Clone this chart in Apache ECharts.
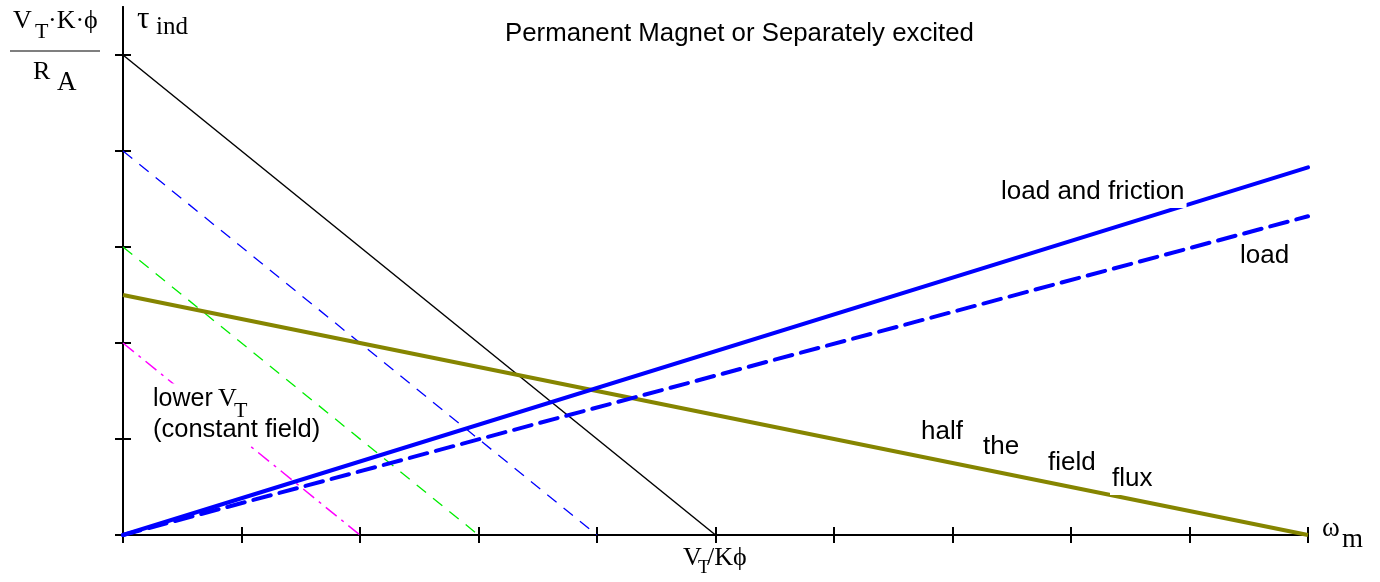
<!DOCTYPE html>
<html>
<head>
<meta charset="utf-8">
<script src="https://cdn.jsdelivr.net/npm/echarts@6/dist/echarts.min.js"></script>
<style>
  html, body { margin: 0; padding: 0; background: #fff; }
  #main { width: 1380px; height: 582px; }
</style>
</head>
<body>
<div id="main"></div>
<script>
// torque-speed lines, x = speed (0..10), y = torque (0..5)
var fullVoltage = [[0, 5], [5, 0]];
var lowerV1 = [[0, 4], [4, 0]];
var lowerV2 = [[0, 3], [3, 0]];
var lowerV3 = [[0, 2], [2, 0]];
var halfFlux = [[0, 2.5], [10, 0]];
var loadFriction = [[0, 0], [10, 3.83]];
var loadOnly = [[0, 0], [10, 3.32]];
var xTickValues = [0, 1, 2, 3, 4, 5, 6, 7, 8, 9, 10];
var yTickValues = [0, 1, 2, 3, 4, 5];

var SANS = "'Liberation Sans', Arial, sans-serif";
var SERIF = "'Liberation Serif', 'Times New Roman', serif";

var myChart = echarts.init(document.getElementById('main'));

function lineSeries(data, color, width, type, cap) {
  return {
    type: 'line',
    data: data,
    symbol: 'none',
    silent: true,
    animation: false,
    lineStyle: { color: color, width: width, type: type, cap: cap || 'butt' }
  };
}

function axisX(inside) {
  return {
    type: 'value', min: 0, max: 10, interval: 1, position: 'bottom',
    axisLine: { show: true, lineStyle: { color: '#000', width: 2 } },
    axisTick: { show: true, inside: inside, length: 8, customValues: xTickValues,
      lineStyle: { color: '#000', width: 2 } },
    axisLabel: { show: false },
    splitLine: { show: false }
  };
}
function axisY(inside) {
  return {
    type: 'value', min: 0, max: 5.5, interval: 1, position: 'left',
    axisLine: { show: true, lineStyle: { color: '#000', width: 2 } },
    axisTick: { show: true, inside: inside, length: 8, customValues: yTickValues,
      lineStyle: { color: '#000', width: 2 } },
    axisLabel: { show: false },
    splitLine: { show: false }
  };
}

function txt(x, y, text, font, size, bg) {
  var style = {
    text: text,
    font: size + 'px ' + font,
    fill: '#000',
    align: 'left',
    verticalAlign: 'middle'
  };
  if (bg) {
    style.backgroundColor = '#fff';
    style.padding = [3, 2];
  }
  // plain (serif) labels sit above the white-boxed annotations
  return { type: 'text', x: x, y: y, z: bg ? 100 : 101, style: style };
}

var option = {
  animation: false,
  backgroundColor: '#fff',
  title: {
    text: 'Permanent Magnet or Separately excited',
    left: 500,
    top: 16,
    textStyle: { fontFamily: SANS, fontSize: 25.8, fontWeight: 'normal', color: '#000' }
  },
  grid: { left: 123, right: 72, top: 7, bottom: 47 },
  xAxis: [axisX(true), axisX(false)],
  yAxis: [axisY(true), axisY(false)],
  series: [
    lineSeries(fullVoltage, '#000', 1.5, 'solid'),
    lineSeries(lowerV1, '#0000ff', 1.3, [12, 9]),
    lineSeries(lowerV2, '#00ee00', 1.3, [12, 9]),
    lineSeries(lowerV3, '#ff00ff', 1.5, [14, 6, 3, 6]),
    lineSeries(halfFlux, '#858500', 4, 'solid'),
    lineSeries(loadOnly, '#0000ff', 4, [18, 9], 'round'),
    lineSeries(loadFriction, '#0000ff', 4, 'solid', 'round')
  ],
  graphic: [
    // y axis name as a fraction
    txt(13, 21, 'V', SERIF, 26),
    txt(35, 32, 'T', SERIF, 22),
    txt(48, 21, '\u00b7K\u00b7\u03d5', SERIF, 26),
    { type: 'line', z: 100, shape: { x1: 10, y1: 51, x2: 100, y2: 51 },
      style: { stroke: '#000', lineWidth: 1.2 } },
    txt(33, 72, 'R', SERIF, 26),
    txt(57, 83, 'A', SERIF, 27),
    txt(137, 20, '\u03c4', SERIF, 31),
    txt(156, 27, 'ind', SERIF, 25),
    // x axis labels
    txt(683, 558, 'V', SERIF, 26),
    txt(698, 568, 'T', SERIF, 19),
    txt(707, 558, '/K\u03d5', SERIF, 26),
    txt(1322, 529, '\u03c9', SERIF, 27),
    txt(1342, 540, 'm', SERIF, 27),
    // annotations
    txt(999, 192, 'load and friction', SANS, 26, true),
    txt(1238, 256, 'load', SANS, 26, true),
    txt(151, 399, 'lower', SANS, 25, true),
    txt(218, 399, 'V', SERIF, 26),
    txt(234, 411, 'T', SERIF, 22),
    txt(151, 430, '(constant field)', SANS, 25.5, true),
    txt(919, 432, 'half', SANS, 26, true),
    txt(981, 447, 'the', SANS, 26, true),
    txt(1046, 463, 'field', SANS, 26, true),
    txt(1110, 479, 'flux', SANS, 26, true)
  ]
};

myChart.setOption(option);
</script>
</body>
</html>
